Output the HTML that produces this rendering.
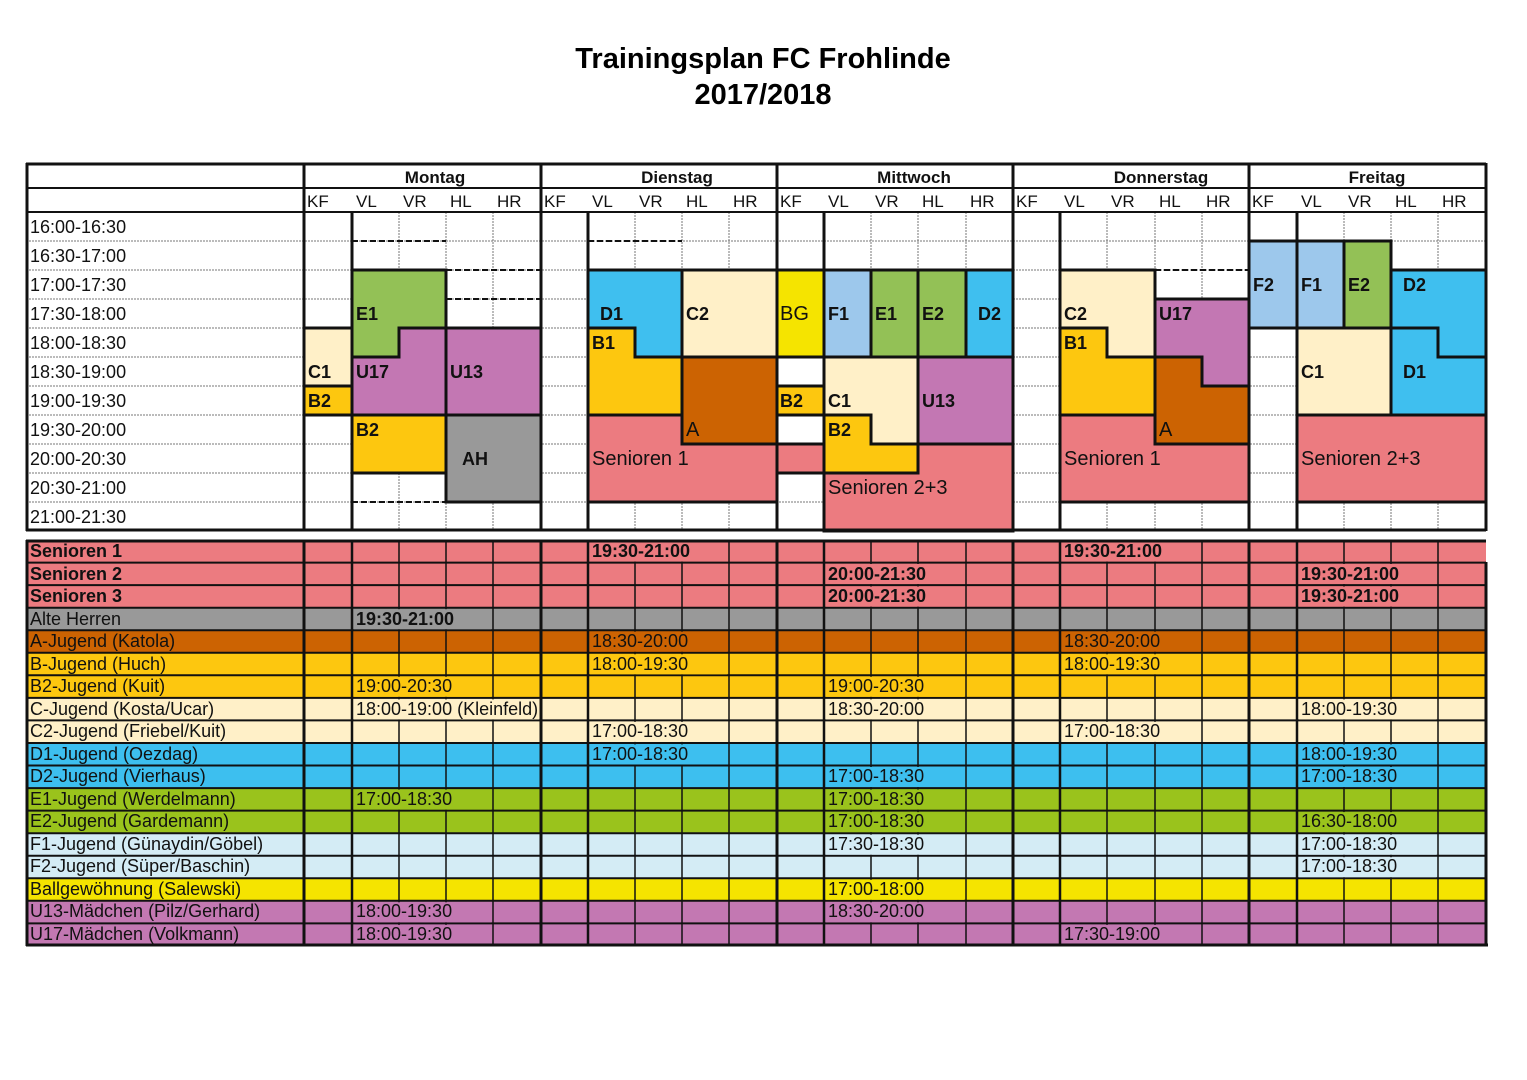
<!DOCTYPE html>
<html><head><meta charset="utf-8"><style>
html,body{margin:0;padding:0;background:#fff;}
svg{display:block;font-family:"Liberation Sans",Arial,sans-serif;}
.t{font-size:18px;fill:#111;}
.h{font-size:17px;font-weight:bold;fill:#111;}
.s{font-size:17px;fill:#111;}
.bl{font-size:18px;font-weight:bold;fill:#111;}
.bn{font-size:20px;fill:#111;}
.r{font-size:18px;fill:#111;}
</style></head><body>
<svg width="1527" height="1080" viewBox="0 0 1527 1080">
<rect width="1527" height="1080" fill="#fff"/>
<text x="763" y="68" text-anchor="middle" font-size="29" font-weight="bold" fill="#000">Trainingsplan FC Frohlinde</text>
<text x="763" y="104" text-anchor="middle" font-size="29" font-weight="bold" fill="#000">2017/2018</text>

<g stroke="#777" stroke-width="1" stroke-dasharray="2,1">
<line x1="26" y1="241" x2="1486" y2="241"/><line x1="26" y1="270" x2="1486" y2="270"/>
<line x1="26" y1="299" x2="1486" y2="299"/><line x1="26" y1="328" x2="1486" y2="328"/>
<line x1="26" y1="357" x2="1486" y2="357"/><line x1="26" y1="386" x2="1486" y2="386"/>
<line x1="26" y1="415" x2="1486" y2="415"/><line x1="26" y1="444" x2="1486" y2="444"/>
<line x1="26" y1="473" x2="1486" y2="473"/><line x1="26" y1="502" x2="1486" y2="502"/>
</g>
<g stroke="#777" stroke-width="1" stroke-dasharray="2,1">
<line x1="399" y1="212" x2="399" y2="531"/><line x1="446" y1="212" x2="446" y2="531"/><line x1="493" y1="212" x2="493" y2="531"/>
<line x1="635" y1="212" x2="635" y2="531"/><line x1="682" y1="212" x2="682" y2="531"/><line x1="729" y1="212" x2="729" y2="531"/>
<line x1="871" y1="212" x2="871" y2="531"/><line x1="918" y1="212" x2="918" y2="531"/><line x1="966" y1="212" x2="966" y2="531"/>
<line x1="1107" y1="212" x2="1107" y2="531"/><line x1="1155" y1="212" x2="1155" y2="531"/><line x1="1202" y1="212" x2="1202" y2="531"/>
<line x1="1344" y1="212" x2="1344" y2="531"/><line x1="1391" y1="212" x2="1391" y2="531"/><line x1="1438" y1="212" x2="1438" y2="531"/>
</g>
<g stroke="#111" stroke-width="2" stroke-dasharray="6,3">
<line x1="352" y1="241" x2="446" y2="241"/><line x1="446" y1="270" x2="541" y2="270"/>
<line x1="446" y1="299" x2="541" y2="299"/><line x1="352" y1="502" x2="446" y2="502"/>
<line x1="588" y1="241" x2="682" y2="241"/><line x1="1155" y1="270" x2="1249" y2="270"/>
</g>

<g stroke="#111" stroke-width="3" stroke-linejoin="miter">
<polygon points="352,270 446,270 446,328 399,328 399,357 352,357" fill="#93c156"/>
<polygon points="399,328 446,328 446,415 352,415 352,357 399,357" fill="#c377b3"/>
<rect x="446" y="328" width="95" height="87" fill="#c377b3"/>
<rect x="304" y="328" width="48" height="58" fill="#fff0c8"/>
<rect x="304" y="386" width="48" height="29" fill="#fdc70f"/>
<rect x="352" y="415" width="94" height="58" fill="#fdc70f"/>
<rect x="446" y="415" width="95" height="87" fill="#999999"/>
<polygon points="588,270 682,270 682,357 635,357 635,328 588,328" fill="#3fbfef"/>
<rect x="682" y="270" width="95" height="87" fill="#fff0c8"/>
<polygon points="588,328 635,328 635,357 682,357 682,415 588,415" fill="#fdc70f"/>
<rect x="682" y="357" width="95" height="87" fill="#cc6302"/>
<polygon points="588,415 682,415 682,444 777,444 777,502 588,502" fill="#ec7b80"/>
<rect x="777" y="270" width="47" height="87" fill="#f5e400"/>
<rect x="824" y="270" width="47" height="87" fill="#9dc8ec"/>
<rect x="871" y="270" width="47" height="87" fill="#93c156"/>
<rect x="918" y="270" width="48" height="87" fill="#93c156"/>
<rect x="966" y="270" width="47" height="87" fill="#3fbfef"/>
<rect x="777" y="386" width="47" height="29" fill="#fdc70f"/>
<rect x="777" y="444" width="47" height="29" fill="#ec7b80"/>
<polygon points="824,357 918,357 918,444 871,444 871,415 824,415" fill="#fff0c8"/>
<rect x="918" y="357" width="95" height="87" fill="#c377b3"/>
<polygon points="824,415 871,415 871,444 918,444 918,473 824,473" fill="#fdc70f"/>
<polygon points="824,473 918,473 918,444 1013,444 1013,531 824,531" fill="#ec7b80"/>
<polygon points="1060,270 1155,270 1155,357 1107,357 1107,328 1060,328" fill="#fff0c8"/>
<polygon points="1060,328 1107,328 1107,357 1155,357 1155,415 1060,415" fill="#fdc70f"/>
<polygon points="1155,299 1249,299 1249,386 1202,386 1202,357 1155,357" fill="#c377b3"/>
<polygon points="1155,357 1202,357 1202,386 1249,386 1249,444 1155,444" fill="#cc6302"/>
<polygon points="1060,415 1155,415 1155,444 1249,444 1249,502 1060,502" fill="#ec7b80"/>
<rect x="1249" y="241" width="48" height="87" fill="#9dc8ec"/>
<rect x="1297" y="241" width="47" height="87" fill="#9dc8ec"/>
<rect x="1344" y="241" width="47" height="87" fill="#93c156"/>
<polygon points="1391,270 1486,270 1486,357 1438,357 1438,328 1391,328" fill="#3fbfef"/>
<rect x="1297" y="328" width="94" height="87" fill="#fff0c8"/>
<polygon points="1391,328 1438,328 1438,357 1486,357 1486,415 1391,415" fill="#3fbfef"/>
<rect x="1297" y="415" width="189" height="87" fill="#ec7b80"/>
</g>

<g stroke="#111">
<line x1="26" y1="164" x2="1486" y2="164" stroke-width="3"/>
<line x1="26" y1="188" x2="1486" y2="188" stroke-width="2"/>
<line x1="26" y1="212" x2="1486" y2="212" stroke-width="2"/>
<line x1="26" y1="530" x2="1486" y2="530" stroke-width="3"/>
<g stroke-width="3">
<line x1="27" y1="163" x2="27" y2="531"/><line x1="304" y1="163" x2="304" y2="531"/>
<line x1="541" y1="163" x2="541" y2="531"/><line x1="777" y1="163" x2="777" y2="531"/>
<line x1="1013" y1="163" x2="1013" y2="531"/><line x1="1249" y1="163" x2="1249" y2="531"/>
<line x1="1486" y1="163" x2="1486" y2="531"/>
<line x1="352" y1="212" x2="352" y2="531"/><line x1="588" y1="212" x2="588" y2="531"/>
<line x1="824" y1="212" x2="824" y2="531"/><line x1="1060" y1="212" x2="1060" y2="531"/>
<line x1="1297" y1="212" x2="1297" y2="531"/>
</g>
</g>

<text class="h" x="435" y="183" text-anchor="middle">Montag</text>
<text class="h" x="677" y="183" text-anchor="middle">Dienstag</text>
<text class="h" x="914" y="183" text-anchor="middle">Mittwoch</text>
<text class="h" x="1161" y="183" text-anchor="middle">Donnerstag</text>
<text class="h" x="1377" y="183" text-anchor="middle">Freitag</text>
<g class="s">
<text x="307" y="207">KF</text><text x="356" y="207">VL</text><text x="403" y="207">VR</text><text x="450" y="207">HL</text><text x="497" y="207">HR</text>
<text x="544" y="207">KF</text><text x="592" y="207">VL</text><text x="639" y="207">VR</text><text x="686" y="207">HL</text><text x="733" y="207">HR</text>
<text x="780" y="207">KF</text><text x="828" y="207">VL</text><text x="875" y="207">VR</text><text x="922" y="207">HL</text><text x="970" y="207">HR</text>
<text x="1016" y="207">KF</text><text x="1064" y="207">VL</text><text x="1111" y="207">VR</text><text x="1159" y="207">HL</text><text x="1206" y="207">HR</text>
<text x="1252" y="207">KF</text><text x="1301" y="207">VL</text><text x="1348" y="207">VR</text><text x="1395" y="207">HL</text><text x="1442" y="207">HR</text>
</g>
<g class="t">
<text x="30" y="233">16:00-16:30</text><text x="30" y="262">16:30-17:00</text>
<text x="30" y="291">17:00-17:30</text><text x="30" y="320">17:30-18:00</text>
<text x="30" y="349">18:00-18:30</text><text x="30" y="378">18:30-19:00</text>
<text x="30" y="407">19:00-19:30</text><text x="30" y="436">19:30-20:00</text>
<text x="30" y="465">20:00-20:30</text><text x="30" y="494">20:30-21:00</text>
<text x="30" y="523">21:00-21:30</text>
</g>
<g class="bl">
<text x="356" y="320">E1</text><text x="356" y="378">U17</text><text x="450" y="378">U13</text>
<text x="308" y="378">C1</text><text x="308" y="407">B2</text><text x="356" y="436">B2</text>
<text x="462" y="465">AH</text>
<text x="600" y="320">D1</text><text x="686" y="320">C2</text><text x="592" y="349">B1</text>
<text x="828" y="320">F1</text><text x="875" y="320">E1</text><text x="922" y="320">E2</text><text x="978" y="320">D2</text>
<text x="780" y="407">B2</text><text x="828" y="407">C1</text><text x="922" y="407">U13</text><text x="828" y="436">B2</text>
<text x="1064" y="320">C2</text><text x="1159" y="320">U17</text><text x="1064" y="349">B1</text>
<text x="1253" y="291">F2</text><text x="1301" y="291">F1</text><text x="1348" y="291">E2</text><text x="1403" y="291">D2</text>
<text x="1301" y="378">C1</text><text x="1403" y="378">D1</text>
</g>
<g class="bn">
<text x="686" y="436">A</text><text x="592" y="465">Senioren 1</text>
<text x="780" y="320">BG</text><text x="828" y="494">Senioren 2+3</text>
<text x="1159" y="436">A</text><text x="1064" y="465">Senioren 1</text>
<text x="1301" y="465">Senioren 2+3</text>
</g>

<rect x="26" y="540" width="1460" height="67.7" fill="#ec7b80"/>
<rect x="26" y="607.7" width="1460" height="22.5" fill="#999999"/>
<rect x="26" y="630.2" width="1460" height="22.6" fill="#cc6302"/>
<rect x="26" y="652.8" width="1460" height="45.1" fill="#fdc70f"/>
<rect x="26" y="697.9" width="1460" height="45.1" fill="#fff0c8"/>
<rect x="26" y="743" width="1460" height="45.1" fill="#3dbfef"/>
<rect x="26" y="788.1" width="1460" height="45.1" fill="#9ac31c"/>
<rect x="26" y="833.2" width="1460" height="45.1" fill="#d4ecf5"/>
<rect x="26" y="878.3" width="1460" height="22.5" fill="#f5e400"/>
<rect x="26" y="900.8" width="1460" height="45.2" fill="#c378b2"/>

<g stroke="#111" stroke-width="2">
<line x1="26" y1="562.6" x2="1486" y2="562.6"/><line x1="26" y1="585.1" x2="1486" y2="585.1"/>
<line x1="26" y1="607.7" x2="1486" y2="607.7"/><line x1="26" y1="630.2" x2="1486" y2="630.2"/>
<line x1="26" y1="652.8" x2="1486" y2="652.8"/><line x1="26" y1="675.3" x2="1486" y2="675.3"/>
<line x1="26" y1="697.9" x2="1486" y2="697.9"/><line x1="26" y1="720.4" x2="1486" y2="720.4"/>
<line x1="26" y1="743" x2="1486" y2="743"/><line x1="26" y1="765.5" x2="1486" y2="765.5"/>
<line x1="26" y1="788.1" x2="1486" y2="788.1"/><line x1="26" y1="810.6" x2="1486" y2="810.6"/>
<line x1="26" y1="833.2" x2="1486" y2="833.2"/><line x1="26" y1="855.7" x2="1486" y2="855.7"/>
<line x1="26" y1="878.3" x2="1486" y2="878.3"/><line x1="26" y1="900.8" x2="1486" y2="900.8"/>
<line x1="26" y1="923.4" x2="1486" y2="923.4"/>
</g>
<g stroke="#111" stroke-width="1.5">
<line x1="399" y1="540" x2="399" y2="946"/><line x1="446" y1="540" x2="446" y2="946"/><line x1="493" y1="540" x2="493" y2="946"/>
<line x1="635" y1="540" x2="635" y2="946"/><line x1="682" y1="540" x2="682" y2="946"/><line x1="729" y1="540" x2="729" y2="946"/>
<line x1="871" y1="540" x2="871" y2="946"/><line x1="918" y1="540" x2="918" y2="946"/><line x1="966" y1="540" x2="966" y2="946"/>
<line x1="1107" y1="540" x2="1107" y2="946"/><line x1="1155" y1="540" x2="1155" y2="946"/><line x1="1202" y1="540" x2="1202" y2="946"/>
<line x1="1344" y1="540" x2="1344" y2="946"/><line x1="1391" y1="540" x2="1391" y2="946"/><line x1="1438" y1="540" x2="1438" y2="946"/>
</g>
<g stroke="#111" stroke-width="2.5">
<line x1="352" y1="540" x2="352" y2="946"/><line x1="588" y1="540" x2="588" y2="946"/>
<line x1="824" y1="540" x2="824" y2="946"/><line x1="1060" y1="540" x2="1060" y2="946"/>
<line x1="1297" y1="540" x2="1297" y2="946"/>
</g>
<g>
<rect x="590" y="541.5" width="137" height="20" fill="#ec7b80"/><rect x="1062" y="541.5" width="138" height="20" fill="#ec7b80"/>
<rect x="826" y="564" width="138" height="20" fill="#ec7b80"/><rect x="1299" y="564" width="137" height="20" fill="#ec7b80"/>
<rect x="826" y="586.6" width="138" height="20" fill="#ec7b80"/><rect x="1299" y="586.6" width="137" height="20" fill="#ec7b80"/>
<rect x="354" y="609.2" width="137" height="20" fill="#999999"/>
<rect x="590" y="631.7" width="137" height="20" fill="#cc6302"/><rect x="1062" y="631.7" width="138" height="20" fill="#cc6302"/>
<rect x="590" y="654.3" width="137" height="20" fill="#fdc70f"/><rect x="1062" y="654.3" width="138" height="20" fill="#fdc70f"/>
<rect x="354" y="676.8" width="137" height="20" fill="#fdc70f"/><rect x="826" y="676.8" width="138" height="20" fill="#fdc70f"/>
<rect x="354" y="699.4" width="185" height="20" fill="#fff0c8"/><rect x="826" y="699.4" width="138" height="20" fill="#fff0c8"/><rect x="1299" y="699.4" width="137" height="20" fill="#fff0c8"/>
<rect x="590" y="721.9" width="137" height="20" fill="#fff0c8"/><rect x="1062" y="721.9" width="138" height="20" fill="#fff0c8"/>
<rect x="590" y="744.5" width="137" height="20" fill="#3dbfef"/><rect x="1299" y="744.5" width="137" height="20" fill="#3dbfef"/>
<rect x="826" y="767" width="138" height="20" fill="#3dbfef"/><rect x="1299" y="767" width="137" height="20" fill="#3dbfef"/>
<rect x="354" y="789.6" width="137" height="20" fill="#9ac31c"/><rect x="826" y="789.6" width="138" height="20" fill="#9ac31c"/>
<rect x="826" y="812.1" width="138" height="20" fill="#9ac31c"/><rect x="1299" y="812.1" width="137" height="20" fill="#9ac31c"/>
<rect x="826" y="834.7" width="138" height="20" fill="#d4ecf5"/><rect x="1299" y="834.7" width="137" height="20" fill="#d4ecf5"/>
<rect x="1299" y="857.2" width="137" height="20" fill="#d4ecf5"/>
<rect x="826" y="879.8" width="138" height="20" fill="#f5e400"/>
<rect x="354" y="902.3" width="137" height="20" fill="#c378b2"/><rect x="826" y="902.3" width="138" height="20" fill="#c378b2"/>
<rect x="354" y="924.9" width="137" height="20" fill="#c378b2"/><rect x="1062" y="924.9" width="138" height="20" fill="#c378b2"/>
</g>
<g stroke="#111" stroke-width="3" fill="none">
<line x1="26" y1="541" x2="1486" y2="541"/><line x1="26" y1="945" x2="1488" y2="945"/>
<line x1="27" y1="540" x2="27" y2="946"/><line x1="304" y1="540" x2="304" y2="946"/>
<line x1="541" y1="540" x2="541" y2="946"/><line x1="777" y1="540" x2="777" y2="946"/>
<line x1="1013" y1="540" x2="1013" y2="946"/><line x1="1249" y1="540" x2="1249" y2="946"/>
<line x1="1486" y1="562" x2="1486" y2="946"/>
</g>
<g class="r">
<text x="30" y="557" font-weight="bold">Senioren 1</text>
<text x="30" y="580" font-weight="bold">Senioren 2</text>
<text x="30" y="602" font-weight="bold">Senioren 3</text>
<text x="30" y="625">Alte Herren</text>
<text x="30" y="647">A-Jugend (Katola)</text>
<text x="30" y="670">B-Jugend (Huch)</text>
<text x="30" y="692">B2-Jugend (Kuit)</text>
<text x="30" y="715">C-Jugend (Kosta/Ucar)</text>
<text x="30" y="737">C2-Jugend (Friebel/Kuit)</text>
<text x="30" y="760">D1-Jugend (Oezdag)</text>
<text x="30" y="782">D2-Jugend (Vierhaus)</text>
<text x="30" y="805">E1-Jugend (Werdelmann)</text>
<text x="30" y="827">E2-Jugend (Gardemann)</text>
<text x="30" y="850">F1-Jugend (Günaydin/Göbel)</text>
<text x="30" y="872">F2-Jugend (Süper/Baschin)</text>
<text x="30" y="895">Ballgewöhnung (Salewski)</text>
<text x="30" y="917">U13-Mädchen (Pilz/Gerhard)</text>
<text x="30" y="940">U17-Mädchen (Volkmann)</text>

<text x="592" y="557" font-weight="bold">19:30-21:00</text><text x="1064" y="557" font-weight="bold">19:30-21:00</text>
<text x="828" y="580" font-weight="bold">20:00-21:30</text><text x="1301" y="580" font-weight="bold">19:30-21:00</text>
<text x="828" y="602" font-weight="bold">20:00-21:30</text><text x="1301" y="602" font-weight="bold">19:30-21:00</text>
<text x="356" y="625" font-weight="bold">19:30-21:00</text>
<text x="592" y="647">18:30-20:00</text><text x="1064" y="647">18:30-20:00</text>
<text x="592" y="670">18:00-19:30</text><text x="1064" y="670">18:00-19:30</text>
<text x="356" y="692">19:00-20:30</text><text x="828" y="692">19:00-20:30</text>
<text x="356" y="715">18:00-19:00 (Kleinfeld)</text><text x="828" y="715">18:30-20:00</text><text x="1301" y="715">18:00-19:30</text>
<text x="592" y="737">17:00-18:30</text><text x="1064" y="737">17:00-18:30</text>
<text x="592" y="760">17:00-18:30</text><text x="1301" y="760">18:00-19:30</text>
<text x="828" y="782">17:00-18:30</text><text x="1301" y="782">17:00-18:30</text>
<text x="356" y="805">17:00-18:30</text><text x="828" y="805">17:00-18:30</text>
<text x="828" y="827">17:00-18:30</text><text x="1301" y="827">16:30-18:00</text>
<text x="828" y="850">17:30-18:30</text><text x="1301" y="850">17:00-18:30</text>
<text x="1301" y="872">17:00-18:30</text>
<text x="828" y="895">17:00-18:00</text>
<text x="356" y="917">18:00-19:30</text><text x="828" y="917">18:30-20:00</text>
<text x="356" y="940">18:00-19:30</text><text x="1064" y="940">17:30-19:00</text>
</g>
</svg>
</body></html>
